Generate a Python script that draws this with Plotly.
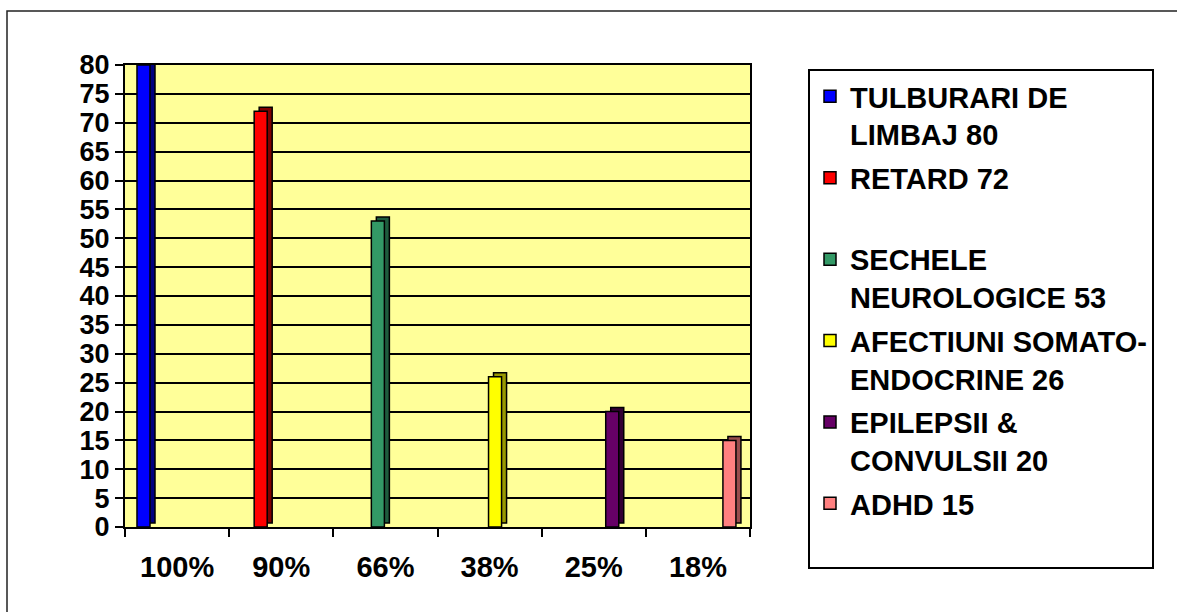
import plotly.graph_objects as go

categories = ["100%", "90%", "66%", "38%", "25%", "18%"]
series_names = ["TULBURARI DE<br>LIMBAJ", "RETARD", "SECHELE<br>NEUROLOGICE",
                "AFECTIUNI SOMATO-<br>ENDOCRINE", "EPILEPSII &<br>CONVULSII", "ADHD"]
values = [80, 72, 53, 26, 20, 15]
front_colors = ["#0000FF", "#FF0000", "#339966", "#FFFF00", "#660066", "#FF8080"]
side_colors = ["#000080", "#800000", "#1E5C3D", "#999900", "#330033", "#994D4D"]

# layout geometry (pixels)
W, H = 1177, 612
PL, PR, PT, PB = 125, 750, 65, 527
ML, MR, MT, MB = PL, W - PR, PT, H - PB
pw, ph = PR - PL, PB - PT

n = len(categories)
slot = 0.125          # width of one bar slot in category units
start = -0.5 + 0.115  # first slot offset from category centre
dx = 5 / (pw / n)     # 3D depth horizontally, category units
dy = 4 / (ph / 80)    # 3D depth vertically, data units

fig = go.Figure()
for i, (cat, name, val) in enumerate(zip(categories, series_names, values)):
    off = start + i * slot
    fig.add_trace(go.Bar(
        x=[cat], y=[val], base=[dy], offset=off + dx, width=slot,
        marker=dict(color=side_colors[i], line=dict(color="black", width=1.5)),
        showlegend=False, hoverinfo="skip"))
    label = f"{name} {val}"
    if "<br>" not in label:
        label += "<br> "
    fig.add_trace(go.Bar(
        x=[cat], y=[val], offset=off, width=slot, name=label,
        marker=dict(color=front_colors[i], line=dict(color="black", width=1.5)),
        legendgroup=f"g{i}"))

fnt = dict(family="Liberation Sans, Arial, sans-serif", size=29, color="black", weight="bold")
yfnt = dict(fnt, size=27)

fig.add_shape(type="rect", xref="paper", yref="paper",
              x0=(7 - PL) / pw, x1=(W + 5 - PL) / pw,
              y0=(PB - (H + 5)) / ph, y1=(PB - 11) / ph,
              line=dict(color="#222222", width=1.5), fillcolor="rgba(0,0,0,0)", layer="below")

fig.update_layout(
    width=W, height=H,
    margin=dict(l=ML, r=MR, t=MT, b=MB, pad=0),
    paper_bgcolor="white", plot_bgcolor="#FFFF99",
    barmode="overlay",
    showlegend=True,
    legend=dict(x=(808 - PL) / pw, y=(PB - 69) / ph, xanchor="left", yanchor="top",
                bgcolor="white", bordercolor="black", borderwidth=2,
                font=fnt, traceorder="grouped", tracegroupgap=3, valign="top",
                maxheight=530),
    xaxis=dict(type="category", categoryorder="array", categoryarray=categories,
               range=[-0.5, n - 0.5], showgrid=False, tickson="boundaries",
               ticks="outside", ticklen=8, tickwidth=1.5, tickcolor="black",
               showline=True, linecolor="black", linewidth=2, mirror=True,
               tickfont=fnt, ticklabelstandoff=13),
    yaxis=dict(range=[0, 80], dtick=5, showgrid=True, gridcolor="black", gridwidth=1.5,
               ticks="outside", ticklen=8, tickwidth=1.5, tickcolor="black",
               showline=True, linecolor="black", linewidth=2, mirror=True,
               tickfont=yfnt, zeroline=False),
)

fig.write_html("out.html")
